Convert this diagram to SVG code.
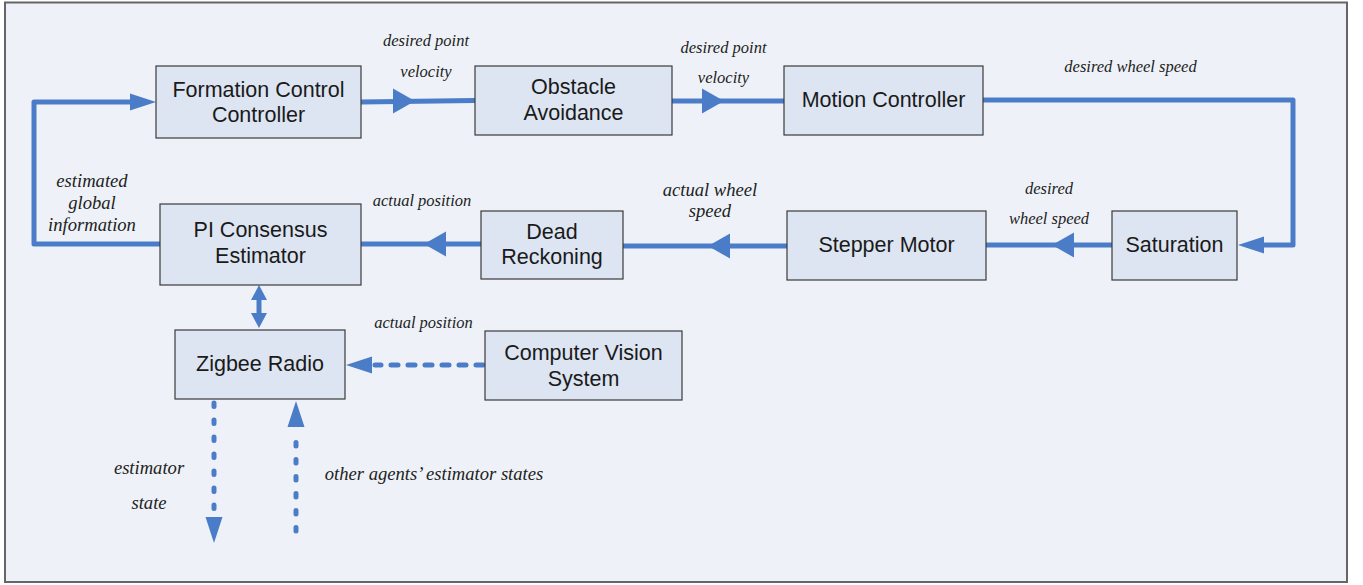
<svg xmlns="http://www.w3.org/2000/svg" xmlns:xlink="http://www.w3.org/1999/xlink" width="1363" height="585" viewBox="0 0 1363 585">
  <style>
    .box { fill: #dde5f2; stroke: #3a3a3a; stroke-width: 1.2; }
    .nt { font-family: "Liberation Sans", Arial, sans-serif; font-size: 21.5px; fill: #1a1a1a; text-anchor: middle; }
    .lb { font-family: "Liberation Serif", "Times New Roman", serif; font-style: italic; font-size: 16.5px; fill: #222; text-anchor: middle; }
    .lb2 { font-size: 18.6px; }
    .wire { fill: none; stroke: #4b7cc7; stroke-width: 5; stroke-linecap: round; stroke-linejoin: round; }
    .dash-h { stroke-dasharray: 7 10; }
    .dash-v { stroke-dasharray: 3.5 13.5; }
    .head { fill: #4b7cc7; }
  </style>
  <defs>
    <!-- arrowheads point along +x, tip at origin -->
    <polygon id="midHead" class="head" points="0,0 -22,-12.5 -22,12.5"/>
    <polygon id="endHead" class="head" points="0,0 -26,-8.5 -26,8.5"/>
    <polygon id="smallHead" class="head" points="0,0 -15,-8 -15,8"/>
  </defs>

  <!-- page frame -->
  <rect x="0" y="0" width="1363" height="585" fill="#ffffff"/>
  <rect x="5" y="2.5" width="1342" height="579.5" fill="#eef2f8" stroke="#666" stroke-width="2"/>

  <!-- connectors -->
  <g id="connectors">
    <!-- estimator output back to formation controller -->
    <polyline class="wire" points="160,244 34,244 34,102 132,102"/>
    <use xlink:href="#endHead" transform="translate(156,102)"/>

    <!-- formation controller to obstacle avoidance -->
    <line class="wire" x1="361" y1="102" x2="475" y2="100.5"/>
    <use xlink:href="#midHead" transform="translate(415,101)"/>

    <!-- obstacle avoidance to motion controller -->
    <line class="wire" x1="672" y1="101" x2="784" y2="101"/>
    <use xlink:href="#midHead" transform="translate(724,101)"/>

    <!-- motion controller to saturation -->
    <polyline class="wire" points="983,100 1293,100 1293,245 1262,245"/>
    <use xlink:href="#endHead" transform="translate(1238,245) rotate(180)"/>

    <!-- saturation to stepper motor -->
    <line class="wire" x1="1112" y1="245" x2="986" y2="245"/>
    <use xlink:href="#midHead" transform="translate(1052,245) rotate(180)"/>

    <!-- stepper motor to dead reckoning -->
    <line class="wire" x1="787" y1="246" x2="623" y2="246"/>
    <use xlink:href="#midHead" transform="translate(708,246) rotate(180)"/>

    <!-- dead reckoning to estimator -->
    <line class="wire" x1="481" y1="244" x2="361" y2="244"/>
    <use xlink:href="#midHead" transform="translate(424,244) rotate(180)"/>

    <!-- estimator and radio, both ways -->
    <line class="wire" x1="259" y1="298" x2="259" y2="315" stroke-width="6" stroke-linecap="butt"/>
    <use xlink:href="#smallHead" transform="translate(259,285) rotate(-90)"/>
    <use xlink:href="#smallHead" transform="translate(259,328) rotate(90)"/>

    <!-- vision system to radio -->
    <line class="wire dash-h" x1="483" y1="365" x2="375" y2="365"/>
    <use xlink:href="#endHead" transform="translate(346,365) rotate(180)"/>

    <!-- radio broadcast out -->
    <line class="wire dash-v" x1="214" y1="403" x2="214" y2="514"/>
    <use xlink:href="#endHead" transform="translate(214,543) rotate(90)"/>

    <!-- states received from other agents -->
    <line class="wire dash-v" x1="296" y1="531" x2="296" y2="430"/>
    <use xlink:href="#endHead" transform="translate(296,401) rotate(-90)"/>
  </g>

  <!-- blocks -->
  <g id="formation-control">
    <rect class="box" x="156" y="66" width="205" height="72"/>
    <text class="nt" x="258.5" y="97">Formation Control</text>
    <text class="nt" x="258.5" y="122">Controller</text>
  </g>
  <g id="obstacle-avoidance">
    <rect class="box" x="475" y="66" width="197" height="69"/>
    <text class="nt" x="573.5" y="94">Obstacle</text>
    <text class="nt" x="573.5" y="120">Avoidance</text>
  </g>
  <g id="motion-controller">
    <rect class="box" x="784" y="66" width="199" height="69"/>
    <text class="nt" x="883.5" y="107">Motion Controller</text>
  </g>
  <g id="saturation">
    <rect class="box" x="1112" y="211" width="125" height="69"/>
    <text class="nt" x="1174.5" y="252">Saturation</text>
  </g>
  <g id="stepper-motor">
    <rect class="box" x="787" y="211" width="199" height="69"/>
    <text class="nt" x="886.5" y="252">Stepper Motor</text>
  </g>
  <g id="dead-reckoning">
    <rect class="box" x="481" y="211" width="142" height="68"/>
    <text class="nt" x="552" y="239">Dead</text>
    <text class="nt" x="552" y="264">Reckoning</text>
  </g>
  <g id="pi-consensus">
    <rect class="box" x="160" y="204" width="201" height="81"/>
    <text class="nt" x="260.5" y="237">PI Consensus</text>
    <text class="nt" x="260.5" y="263">Estimator</text>
  </g>
  <g id="zigbee-radio">
    <rect class="box" x="175" y="330" width="170" height="69"/>
    <text class="nt" x="260" y="371">Zigbee Radio</text>
  </g>
  <g id="computer-vision">
    <rect class="box" x="485" y="331" width="197" height="69"/>
    <text class="nt" x="583.5" y="360">Computer Vision</text>
    <text class="nt" x="583.5" y="386">System</text>
  </g>

  <!-- signal labels -->
  <g id="labels">
    <text class="lb" x="426" y="46">desired point</text>
    <text class="lb" x="426" y="77">velocity</text>
    <text class="lb" x="723.5" y="53">desired point</text>
    <text class="lb" x="723.5" y="83">velocity</text>
    <text class="lb" x="1130.5" y="72">desired wheel speed</text>
    <text class="lb" x="1049" y="194">desired</text>
    <text class="lb" x="1049" y="224">wheel speed</text>
    <text class="lb lb2" x="710" y="196">actual wheel</text>
    <text class="lb lb2" x="710" y="217">speed</text>
    <text class="lb" x="422" y="206">actual position</text>
    <text class="lb lb2" x="92" y="187">estimated</text>
    <text class="lb lb2" x="92" y="209">global</text>
    <text class="lb lb2" x="92" y="231">information</text>
    <text class="lb" x="423.5" y="328">actual position</text>
    <text class="lb lb2" x="149" y="474">estimator</text>
    <text class="lb lb2" x="149" y="509">state</text>
    <text class="lb lb2" x="434" y="480">other agents’ estimator states</text>
  </g>
</svg>
